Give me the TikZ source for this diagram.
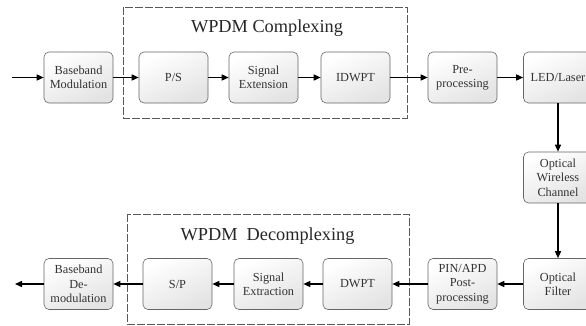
\documentclass[tikz,border=0pt]{standalone}
\usepackage{fontspec}
\setmainfont{Liberation Serif}
\usetikzlibrary{arrows.meta}
\begin{document}
\begin{tikzpicture}[x=1pt,y=-1pt,
  blk/.style={draw=black!60, line width=0.6pt, rounded corners=5pt,
    top color=white, bottom color=black!11, shading angle=25,
    minimum width=69pt, minimum height=51pt, inner sep=1pt,
    align=center, text=black!80, font=\fontsize{12.3}{14.3}\selectfont},
  grp/.style={draw=black!65, line width=0.7pt, dash pattern=on 8pt off 2pt},
  ttl/.style={anchor=base, text=black!85, font=\fontsize{18.3}{20}\selectfont},
  flow/.style={line width=1.4pt, -{Triangle[length=7pt,width=6pt]}}
]
\useasboundingbox (0,0) rectangle (586,325);

% grouping frames
\draw[grp] (123,7) rectangle (407,118);
\draw[grp] (127,214) rectangle (409,324);
\node[ttl] (tc) at (267,32) {WPDM Complexing};
\node[ttl] (td) at (267.5,240) {WPDM\ \ Decomplexing};

% transmitter chain
\node[blk] (bm)  at (78.5,77.5)  {Baseband\\Modulation};
\node[blk] (ps)  at (173.5,77.5) {P/S};
\node[blk] (se)  at (263.5,77.5) {Signal\\Extension};
\node[blk] (idw) at (355.5,77.5) {IDWPT};
\node[blk] (pre) at (462.5,77.5) {Pre-\\processing};
\node[blk] (led) at (558,77.5)   {LED/Laser};

% channel
\node[blk] (owc) at (558,177.5)  {Optical\\Wireless\\Channel};
\node[blk] (of)  at (558,284)    {Optical\\Filter};

% receiver chain
\node[blk] (pin) at (462.5,284)  {PIN/APD\\Post-\\processing};
\node[blk] (dw)  at (357.5,284)  {DWPT};
\node[blk] (sx)  at (268.5,284)  {Signal\\Extraction};
\node[blk] (sp)  at (177.5,284)  {S/P};
\node[blk] (bd)  at (78.5,284)   {Baseband\\De-\\modulation};

\coordinate (in)  at (12,77.5);
\coordinate (out) at (15,284);

\draw[flow] (in) -- (bm);
\draw[flow] (bm) -- (ps);
\draw[flow] (ps) -- (se);
\draw[flow] (se) -- (idw);
\draw[flow] (idw) -- (pre);
\draw[flow] (pre) -- (led);
\draw[flow] (led) -- (owc);
\draw[flow] (owc) -- (of);
\draw[flow] (of) -- (pin);
\draw[flow] (pin) -- (dw);
\draw[flow] (dw) -- (sx);
\draw[flow] (sx) -- (sp);
\draw[flow] (sp) -- (bd);
\draw[flow] (bd) -- (out);
\end{tikzpicture}
\end{document}
